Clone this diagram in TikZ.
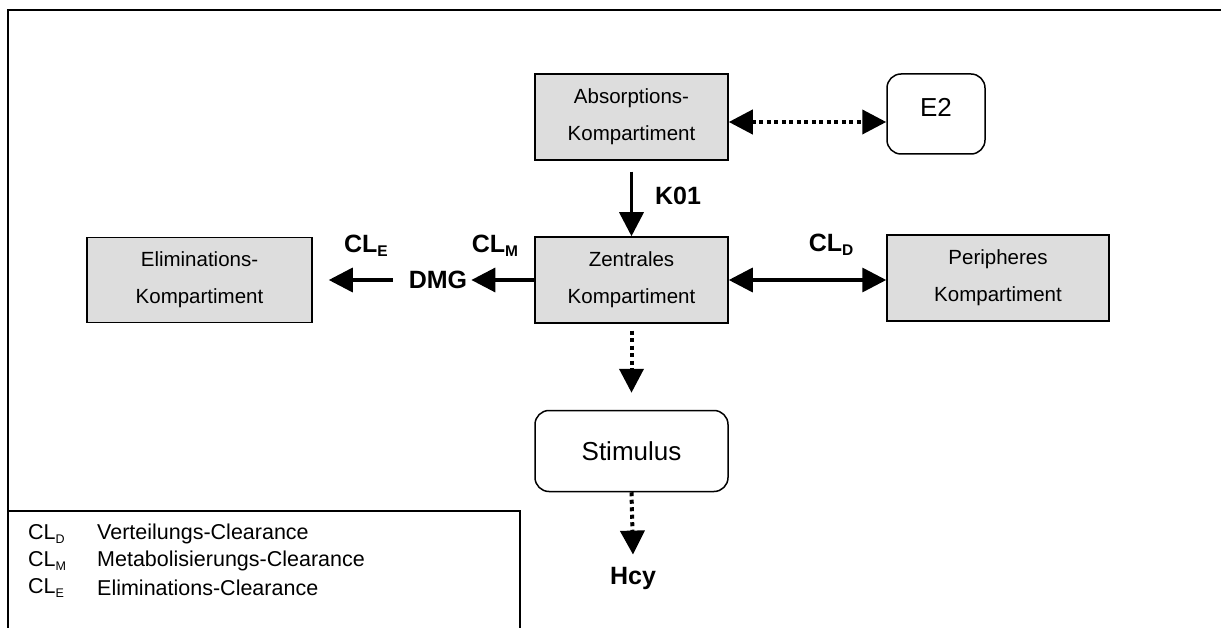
\documentclass[tikz,border=0pt]{standalone}
\usepackage{fontspec}
\setmainfont{Liberation Sans}
\usetikzlibrary{arrows.meta,calc}
\definecolor{boxgray}{RGB}{221,221,221}
\newcommand{\lowsub}[1]{\raisebox{-0.18em}{\fontsize{15.5}{15.5}\selectfont #1}}
\newcommand{\legsub}[1]{\raisebox{-0.18em}{\fontsize{12.5}{12.5}\selectfont #1}}
\begin{document}
\begin{tikzpicture}[x=1pt,y=-1pt,
  comp/.style={draw, line width=1.5pt, fill=boxgray, inner sep=0pt, align=center, font=\fontsize{20.5}{37}\selectfont},
  rbox/.style={draw, line width=1.5pt, rounded corners=14pt, fill=white, inner sep=0pt, align=center, font=\fontsize{26}{30}\selectfont},
  lbl/.style={inner sep=0pt, font=\bfseries\fontsize{25}{28}\selectfont},
  solidarr/.style={line width=3.5pt, -{Triangle[length=24pt,width=24pt]}},
  solidboth/.style={line width=3.5pt, {Triangle[length=24pt,width=24pt]}-{Triangle[length=24pt,width=24pt]}},
  dotarr/.style={line width=4pt, dash pattern=on 4pt off 3.5pt, -{Triangle[length=24pt,width=24pt]}},
  dotboth/.style={line width=4pt, dash pattern=on 4pt off 3.5pt, {Triangle[length=24pt,width=24pt]}-{Triangle[length=24pt,width=24pt]}},
  framel/.style={line width=2.5pt},
  legframe/.style={line width=1.5pt},
  legtext/.style={anchor=west, inner sep=0pt, font=\fontsize{21.5}{24}\selectfont}
]
\useasboundingbox (0,0) rectangle (1221,628);

% frame
\draw[framel] (1221,10) -- (8,10) -- (8,628);
\draw[legframe] (8,511) -- (520,511) -- (520,628);

% boxes
\node[comp, minimum width=193pt, minimum height=86pt] (abs) at (631.5,117) {Absorptions-\\Kompartiment};
\node[rbox, minimum width=98pt, minimum height=80pt, text height=18.6pt, text depth=13pt] (e2) at (936,114) {E2};
\node[comp, minimum width=193pt, minimum height=86pt] (zen) at (631.5,280) {Zentrales\\Kompartiment};
\node[comp, minimum width=225pt, minimum height=85pt] (elim) at (199.5,280) {Eliminations-\\Kompartiment};
\node[comp, minimum width=222pt, minimum height=86pt] (peri) at (998,278) {Peripheres\\Kompartiment};
\node[rbox, minimum width=193pt, minimum height=81pt] (stim) at (631.5,451) {Stimulus};

% labels
\node[lbl] (k01) at (678,196) {K01};
\node[lbl] (cle) at (366,246) {CL\lowsub{E}};
\node[lbl] (clm) at (495,246) {CL\lowsub{M}};
\node[lbl] (cld) at (831,245) {CL\lowsub{D}};
\node[lbl] (dmg) at (438,280) {DMG};
\node[lbl] (hcy) at (633,578) {Hcy};

% connectors
\draw[dotboth] ([yshift=-5pt]abs.east) -- ([yshift=-8pt]e2.west);
\draw[solidarr] ([yshift=-11pt]abs.south) -- (zen.north);
\draw[solidarr] (zen.west) -- ([xshift=4pt]dmg.east);
\draw[solidarr] ([xshift=-16pt]dmg.west) -- ([xshift=16pt]elim.east);
\draw[solidboth] (zen.east) -- (zen.east -| peri.west);
\draw[dotarr] ([yshift=-7pt]zen.south) -- ([yshift=17pt]stim.north);
\draw[dotarr] (stim.south) -- ([yshift=12pt]hcy.north);

% legend
\node[legtext] (l1a) at (28,534) {CL\legsub{D}};
\node[legtext] (l1b) at (97,534) {Verteilungs-Clearance};
\node[legtext] (l2a) at (28,561) {CL\legsub{M}};
\node[legtext] (l2b) at (97,561) {Metabolisierungs-Clearance};
\node[legtext] (l3a) at (28,588) {CL\legsub{E}};
\node[legtext] (l3b) at (97,588) {Eliminations-Clearance};
\end{tikzpicture}
\end{document}
